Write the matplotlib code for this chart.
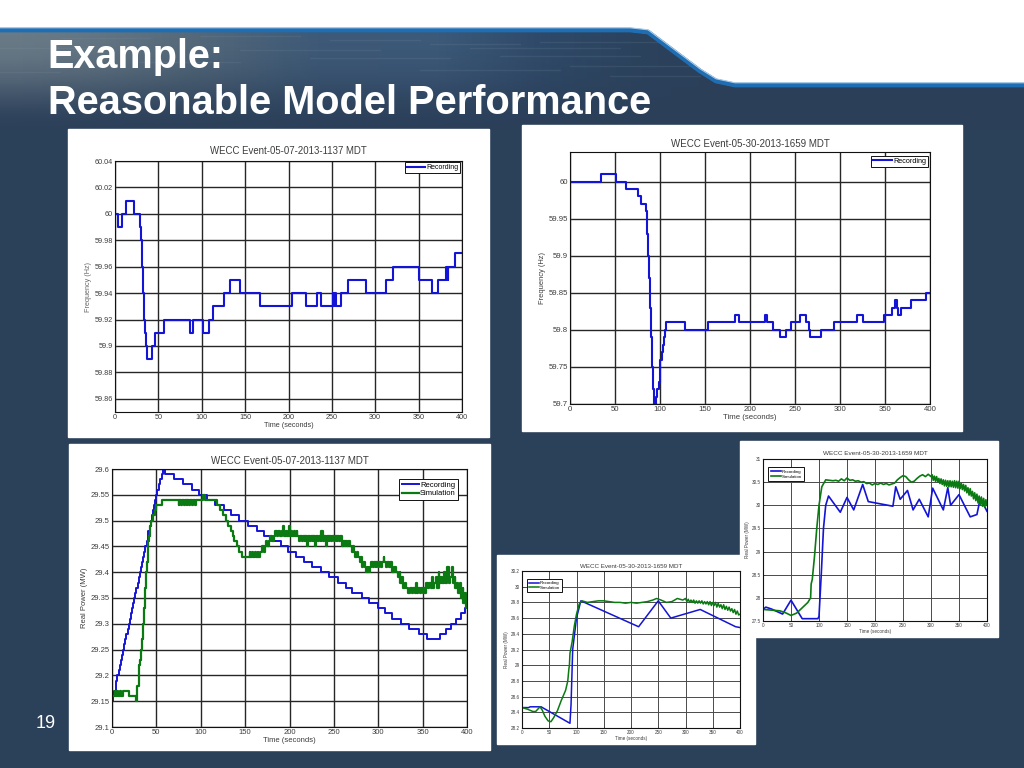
import numpy as np
import matplotlib
matplotlib.use("Agg")
import matplotlib.pyplot as plt
from matplotlib.patches import Polygon, Rectangle
from matplotlib.colors import LinearSegmentedColormap

plt.rcParams['font.family'] = ['Liberation Sans', 'DejaVu Sans']

BG = '#2b4059'
BLUE = '#1414d6'
GREEN = '#0b7a12'
TXT = '#3c3c3c'

title_a = 'WECC Event-05-07-2013-1137 MDT'
title_b = 'WECC Event-05-30-2013-1659 MDT'
xticks = [0, 50, 100, 150, 200, 250, 300, 350, 400]

# Chart 1: frequency, event 05-07
f1_t = [0, 3, 8, 13, 22, 29, 30, 31, 32, 33, 35, 36, 37, 43, 46, 56, 86, 90, 102, 108, 113, 126, 133, 144, 167,
        204, 220, 233, 238, 251, 251.7, 252.4, 253.1, 253.8, 254.5, 260, 269, 289, 312, 320, 351, 365, 372,
        382, 382.6, 383.2, 383.8, 384.4, 385, 392, 400]
f1_f = [60, 59.99, 60, 60.01, 60, 59.99, 59.98, 59.96, 59.94, 59.92, 59.91, 59.90, 59.89, 59.90, 59.91, 59.92, 59.91, 59.92, 59.91, 59.92, 59.93, 59.94, 59.95, 59.94, 59.93,
        59.94, 59.93, 59.94, 59.93, 59.94, 59.93, 59.94, 59.93, 59.94, 59.93, 59.94, 59.95, 59.94, 59.95, 59.96, 59.95, 59.94, 59.95,
        59.96, 59.95, 59.96, 59.95, 59.96, 59.96, 59.97, 59.97]

# Chart 2: frequency, event 05-30
f2_t = [0, 34, 51, 62, 75, 79, 84, 85, 86, 87, 88, 89, 90, 91, 92, 93, 95, 97, 99, 100, 102, 103, 104, 106, 107, 128, 153, 183, 188,
        217, 219, 226, 233, 240, 246, 255, 262, 265, 267, 279, 293, 319, 326, 349, 358, 361, 363, 364, 368, 379, 396, 400]
f2_f = [60, 60.01, 60, 59.99, 59.98, 59.97, 59.96, 59.95, 59.93, 59.90, 59.87, 59.83, 59.79, 59.75, 59.72, 59.70, 59.71, 59.72, 59.73, 59.76, 59.77, 59.78, 59.79, 59.80, 59.81, 59.80, 59.81, 59.82, 59.81,
        59.82, 59.81, 59.80, 59.79, 59.80, 59.81, 59.82, 59.81, 59.80, 59.79, 59.80, 59.81, 59.82, 59.81, 59.82, 59.83, 59.84, 59.83, 59.82, 59.83, 59.84, 59.85, 59.85]

# Chart 3: power, event 05-07
p3_rec_t = [0, 1, 2.5, 4, 5, 6, 7.5, 9, 10, 11, 12.5, 14, 15, 16, 17.5, 19, 20, 21, 22.5, 24, 25, 26, 27.5, 29, 30, 31, 32.5, 34, 35, 36, 37.5, 39, 40, 41, 42.5, 44, 45, 46, 47.5, 49, 50, 51, 52.5, 54, 56, 57,
            60, 70, 80, 90, 98, 107, 116, 126, 134, 143, 153, 163, 171, 180,
            190, 198, 207, 216, 225, 235, 245, 255, 264, 270, 282, 290, 300, 308, 316, 326, 335, 346, 355, 370, 376, 382, 388, 393, 398, 400]
p3_rec_p = [29.15, 29.16, 29.17, 29.18, 29.19, 29.20, 29.21, 29.22, 29.23, 29.24, 29.25, 29.26, 29.27, 29.28, 29.29, 29.30, 29.31, 29.32, 29.33, 29.34, 29.35, 29.36, 29.37, 29.38, 29.39, 29.40, 29.41, 29.42, 29.43, 29.44, 29.45, 29.46, 29.47, 29.48, 29.49, 29.50, 29.51, 29.52, 29.53, 29.54, 29.55, 29.56, 29.57, 29.58, 29.59, 29.60,
            29.59, 29.58, 29.57, 29.56, 29.55, 29.54, 29.53, 29.52, 29.51, 29.50, 29.49, 29.48, 29.47, 29.46,
            29.45, 29.44, 29.43, 29.42, 29.41, 29.40, 29.39, 29.38, 29.37, 29.36, 29.35, 29.34, 29.33, 29.32, 29.31, 29.30, 29.29, 29.28, 29.27, 29.28, 29.29, 29.30, 29.31, 29.32, 29.33, 29.33]
p3_sim_t = [0, 3, 4, 6, 7, 9, 10, 12, 14, 19, 27, 28, 30, 32, 33, 34, 35, 36, 37, 38, 39, 40, 41, 42, 43, 44, 46, 48, 50, 56, 75, 76, 78, 79, 81, 82, 84, 85, 87, 88, 90, 91, 93, 95, 103, 105, 115,
            118, 122, 125, 128, 131, 134, 136, 138, 141, 143, 147, 155, 156, 158, 159, 161, 162, 164, 165, 167, 169, 171, 172, 174, 175, 177, 178, 180, 183, 184, 186, 187, 189, 191, 193, 194, 196, 197, 199, 200, 202, 203, 205, 206, 208, 209,
            211, 212, 214, 215, 217, 218, 220, 221, 223, 224, 226, 227, 229, 230, 232, 233, 235, 236, 238, 239, 241, 242, 244, 245, 247, 248, 250, 251, 253, 254, 256, 257, 259, 260, 262, 263, 265, 266, 268,
            270, 271, 273, 274, 276, 277, 279, 280, 282, 283, 285, 286, 288, 289, 291, 292, 294, 295, 297, 298, 300, 301, 303, 304, 306, 307, 309, 310, 312, 313, 315, 316, 318, 320, 322, 324, 325, 327, 328, 330, 331, 333, 335,
            336, 338, 339, 341, 342, 344, 345, 347, 348, 350, 351, 353, 354, 356, 357, 359, 360, 362, 363, 365, 366, 368, 369, 371, 372, 374, 375, 377, 378, 380, 381, 383, 384, 386, 387, 389, 390, 392, 393, 395, 396, 398, 399, 400]
p3_sim_p = [29.16, 29.17, 29.16, 29.17, 29.16, 29.17, 29.16, 29.17, 29.17, 29.16, 29.15, 29.18, 29.22, 29.23, 29.25, 29.27, 29.30, 29.33, 29.37, 29.40, 29.42, 29.44, 29.46, 29.47, 29.49, 29.50, 29.51, 29.52, 29.53, 29.54,
            29.53, 29.54, 29.53, 29.54, 29.53, 29.54, 29.53, 29.54, 29.53, 29.54, 29.53, 29.54, 29.53, 29.54, 29.55, 29.54, 29.54,
            29.53, 29.52, 29.51, 29.50, 29.49, 29.48, 29.47, 29.46, 29.45, 29.44, 29.43, 29.44, 29.43, 29.44, 29.43, 29.44, 29.43, 29.44, 29.43, 29.44, 29.45, 29.44, 29.45, 29.46, 29.45, 29.46, 29.47, 29.46, 29.47, 29.48, 29.47, 29.48, 29.47, 29.48, 29.49, 29.47, 29.48, 29.47, 29.49, 29.47, 29.48, 29.47, 29.48, 29.47, 29.48, 29.47,
            29.46, 29.47, 29.46, 29.47, 29.46, 29.47, 29.45, 29.47, 29.46, 29.47, 29.46, 29.47, 29.45, 29.47, 29.46, 29.47, 29.46, 29.48, 29.46, 29.47, 29.45, 29.47, 29.46, 29.47, 29.46, 29.47, 29.46, 29.47, 29.46, 29.47, 29.46, 29.47, 29.45, 29.46, 29.45, 29.46, 29.45, 29.46, 29.45,
            29.44, 29.45, 29.44, 29.43, 29.44, 29.43, 29.42, 29.43, 29.41, 29.42, 29.41, 29.40, 29.41, 29.40, 29.41, 29.42, 29.41, 29.42, 29.41, 29.42, 29.41, 29.42, 29.41, 29.42, 29.43, 29.42, 29.41, 29.42, 29.41, 29.42, 29.41, 29.40, 29.41, 29.40, 29.39, 29.40, 29.38, 29.39, 29.37, 29.38, 29.37, 29.36, 29.36,
            29.37, 29.36, 29.37, 29.36, 29.38, 29.36, 29.37, 29.36, 29.37, 29.36, 29.37, 29.36, 29.38, 29.37, 29.38, 29.37, 29.39, 29.37, 29.38, 29.39, 29.37, 29.40, 29.38, 29.39, 29.38, 29.40, 29.38, 29.39, 29.41, 29.38, 29.39, 29.41, 29.38, 29.39, 29.37, 29.38, 29.36, 29.38, 29.35, 29.37, 29.34, 29.36, 29.33, 29.33]

# Chart 4: power, event 05-30 (small)
p4_rec_t = [0, 12, 15, 35, 88, 90, 93, 100, 108, 214, 250, 273, 327, 392, 400]
p4_rec_p = [28.46, 28.46, 28.47, 28.47, 28.26, 28.5, 29.2, 29.6, 29.82, 29.49, 29.82, 29.6, 29.71, 29.49, 29.48]
p4_sim_t = [0, 10, 20, 25, 33, 37, 42, 48, 53, 58, 65, 72, 80, 84, 86, 87, 88, 92, 96, 100, 105,
            110, 120, 130, 140, 150, 160, 170, 180, 190, 200, 210, 220, 230, 240, 247, 255, 265, 275, 285, 295,
            300, 302.5, 305, 307.5, 310, 312.5, 315, 317.5, 320, 322.5, 325, 327.5, 330, 332.5, 335, 337.5, 340, 342.5, 345, 347.5,
            350, 352.5, 355, 357.5, 360, 362.5, 365, 367.5, 370, 372.5, 375, 377.5, 380, 382.5, 385, 387.5, 390, 392.5, 395, 397.5, 400]
p4_sim_p = [28.46, 28.44, 28.41, 28.41, 28.47, 28.43, 28.35, 28.29, 28.28, 28.33, 28.42, 28.55, 28.68, 28.8, 28.95, 29.0, 29.15, 29.3, 29.5, 29.65, 29.78,
            29.82, 29.80, 29.81, 29.82, 29.82, 29.81, 29.80, 29.80, 29.79, 29.80, 29.79, 29.80, 29.81, 29.83, 29.85, 29.83, 29.80, 29.81, 29.85, 29.83,
            29.85, 29.81, 29.84, 29.80, 29.83, 29.80, 29.83, 29.79, 29.82, 29.79, 29.82, 29.79, 29.82, 29.78, 29.81, 29.78, 29.81, 29.77, 29.81, 29.76,
            29.80, 29.76, 29.80, 29.74, 29.79, 29.74, 29.77, 29.72, 29.77, 29.71, 29.75, 29.70, 29.74, 29.69, 29.72, 29.67, 29.71, 29.65, 29.69, 29.64, 29.65]

# Chart 5: power, event 05-30 (small)
p5_rec_t = [0, 5, 15, 35, 50, 70, 98, 100, 104, 108, 112, 117, 138, 150, 162, 178, 188, 232, 237, 245, 258, 268, 279, 295, 303, 322, 330, 335, 350, 370, 382, 388, 400]
p5_rec_p = [27.75, 27.8, 27.76, 27.65, 27.95, 27.55, 27.55, 27.6, 28.5, 29.5, 30.0, 30.2, 29.85, 30.17, 29.9, 30.45, 30.08, 29.98, 30.4, 30.13, 30.32, 29.9, 30.13, 29.75, 30.37, 29.9, 30.38, 30.0, 30.23, 29.75, 29.8, 30.15, 29.87]
p5_sim_t = [0, 30, 40, 50, 60, 80, 85, 86, 88, 92, 96, 100, 105,
            112, 125, 130, 135, 140, 145, 150, 155, 160, 165, 170, 175, 180, 185, 190, 195, 200, 205, 210, 215, 220, 225, 230, 235, 240, 245, 250, 255, 260, 265, 270, 275, 280, 285, 290, 295, 300,
            302, 304, 306, 308, 310, 312, 314, 316, 318, 320, 322, 324, 326, 328, 330, 332, 334, 336, 338, 340, 342, 344, 346, 348, 350,
            352, 354, 356, 358, 360, 362, 364, 366, 368, 370, 372, 374, 376, 378, 380, 382, 384, 386, 388, 390, 392, 394, 396, 398, 400]
p5_sim_p = [27.75, 27.72, 27.68, 27.62, 27.67, 27.9, 28.0, 28.3, 28.4, 28.9, 29.5, 30.0, 30.4,
            30.55, 30.53, 30.54, 30.52, 30.57, 30.53, 30.59, 30.54, 30.55, 30.52, 30.53, 30.50, 30.51, 30.47, 30.48, 30.44, 30.47, 30.45, 30.48, 30.45, 30.47, 30.44, 30.46, 30.48, 30.55, 30.60, 30.64, 30.62, 30.55, 30.50, 30.52, 30.58, 30.63, 30.66, 30.62, 30.67, 30.62,
            30.66, 30.54, 30.63, 30.52, 30.62, 30.50, 30.58, 30.47, 30.57, 30.45, 30.55, 30.42, 30.54, 30.41, 30.53, 30.40, 30.53, 30.40, 30.52, 30.39, 30.53, 30.38, 30.52, 30.37, 30.52,
            30.36, 30.48, 30.34, 30.45, 30.31, 30.43, 30.27, 30.38, 30.22, 30.36, 30.2, 30.3, 30.14, 30.27, 30.1, 30.24, 30.05, 30.2, 30.0, 30.18, 29.98, 30.15, 29.97, 30.12, 30.0]


def make_axes(fig, box, fig_w=1024, fig_h=768):
    x0, y0, x1, y1 = box
    return fig.add_axes([x0 / fig_w, 1 - y1 / fig_h, (x1 - x0) / fig_w, (y1 - y0) / fig_h])


def style_axes(ax, ylim, yticks, title, tick_fs, title_fs, label_fs, lw=1.0, grid='#262626', pad=None):
    ax.set_xlim(0, 400)
    ax.set_ylim(*ylim)
    ax.set_xticks(xticks)
    ax.set_yticks(yticks)
    ax.set_yticklabels([f'{v:g}' for v in yticks])
    ax.grid(True, color=grid, lw=lw)
    ax.set_axisbelow(True)
    ax.tick_params(length=1.5, width=0.5, direction='in', labelsize=tick_fs, colors=TXT, pad=1.5)
    ax.set_title(title, fontsize=title_fs, color=TXT, pad=title_fs * 0.55 if pad is None else pad)
    ax.set_xlabel('Time (seconds)', fontsize=label_fs, color=TXT, labelpad=0.5)
    for s in ax.spines.values():
        s.set_linewidth(0.8)
        s.set_color('#111111')


def add_legend(ax, fs, anchor, handle=2.6, borderpad=0.3):
    ax.legend(loc='upper right', bbox_to_anchor=anchor, fontsize=fs, fancybox=False, edgecolor='#111111',
              framealpha=1, borderpad=borderpad, labelspacing=0.15, handlelength=handle, handletextpad=0.2,
              borderaxespad=0).get_frame().set_linewidth(0.7)


fig = plt.figure(figsize=(10.24, 7.68), dpi=100, facecolor=BG)

# Slide background
bg = fig.add_axes([0, 0, 1, 1])
bg.set_xlim(0, 1024)
bg.set_ylim(768, 0)
bg.axis('off')
shape = [(0, 31), (630, 31), (648, 33), (660, 42), (700, 72), (716, 82), (735, 86), (1024, 86), (1024, 0), (0, 0)]
bg.add_patch(Rectangle((0, 0), 1024, 768, color=BG, zorder=0))
band = [(0, 31), (630, 31), (648, 33), (660, 42), (700, 72), (716, 82), (735, 86), (1024, 86), (1024, 130), (0, 130)]
cmap = LinearSegmentedColormap.from_list('hdr', ['#6b7c88', '#566a7b', '#3f5b78', '#3d5a7a', '#2f4a68', BG])
im = bg.imshow(np.array([[0.0, 0.2, 0.4, 0.6, 0.85, 1.0]]), extent=(0, 760, 130, 31), cmap=cmap, aspect='auto',
               interpolation='bicubic', zorder=1)
im.set_clip_path(Polygon(band, transform=bg.transData))
fade = LinearSegmentedColormap.from_list('fade', [(0.17, 0.25, 0.35, 0.0), (0.17, 0.25, 0.35, 1.0)])
bg.imshow(np.array([[0.0], [0.35], [1.0]]), extent=(0, 1024, 130, 31), cmap=fade, aspect='auto',
          interpolation='bicubic', zorder=1.5)
bg.set_xlim(0, 1024)
bg.set_ylim(768, 0)
for sx0, sx1, sy in [(200, 300, 36), (330, 420, 40), (430, 520, 44), (240, 380, 50), (470, 620, 48), (540, 660, 42),
                     (310, 450, 58), (500, 640, 56), (140, 240, 62), (570, 690, 66), (420, 560, 70), (610, 700, 76),
                     (0, 90, 48), (0, 60, 72), (60, 150, 38)]:
    bg.plot([sx0, sx1], [sy, sy], color='#7f93a6', lw=1.0, alpha=0.16, zorder=1.7, solid_capstyle='round')
bg.add_patch(Polygon(shape, color='white', zorder=2))
edge_x = [p[0] for p in shape[:8]]
edge_y = [p[1] - 1 for p in shape[:8]]
bg.plot(edge_x, edge_y, color='#1f6db3', lw=3.4, zorder=3, solid_joinstyle='round')
bg.plot(edge_x, [v - 2.2 for v in edge_y], color='#a9cbe8', lw=0.8, zorder=3)

bg.text(47, 57, 'Example:', color='white', fontsize=28.5, fontweight='bold', va='center', ha='left', zorder=4)
bg.text(48, 103, 'Reasonable Model Performance', color='white', fontsize=28.6, fontweight='bold', va='center', ha='left', zorder=4)
bg.text(36, 724, '19', color='white', fontsize=13, va='center', ha='left', zorder=4)

# White cards
for x0, y0, x1, y1 in [(68, 129, 489, 437), (522, 125, 962, 431), (69, 444, 490, 750), (497, 555, 755, 744), (740, 441, 998, 637)]:
    bg.add_patch(Rectangle((x0, y0), x1 - x0, y1 - y0, color='white', zorder=5))

# Chart 1
ax1 = make_axes(fig, (115, 161, 462, 412))
ax1.plot(f1_t, f1_f, drawstyle='steps-post', color=BLUE, lw=1.5, label='Recording')
style_axes(ax1, (59.85, 60.04), [59.86, 59.88, 59.9, 59.92, 59.94, 59.96, 59.98, 60, 60.02, 60.04], title_a, 5.2, 6.9, 5.2, pad=4.8)
ax1.set_ylabel('Frequency (Hz)', fontsize=5.2, color='#666666', labelpad=2)
add_legend(ax1, 5.0, (0.995, 0.995))

# Chart 2
ax2 = make_axes(fig, (570, 152, 930, 404))
ax2.plot(f2_t, f2_f, drawstyle='steps-post', color=BLUE, lw=1.5, label='Recording')
style_axes(ax2, (59.7, 60.04), [59.7, 59.75, 59.8, 59.85, 59.9, 59.95, 60], title_b, 5.6, 7.0, 5.6)
ax2.set_ylabel('Frequency (Hz)', fontsize=5.4, color=TXT, labelpad=2)
add_legend(ax2, 5.2, (0.995, 0.985))

# Chart 3
ax3 = make_axes(fig, (112, 469, 467, 727))
ax3.plot(p3_rec_t, p3_rec_p, drawstyle='steps-post', color=BLUE, lw=1.4, label='Recording')
ax3.plot(p3_sim_t, p3_sim_p, drawstyle='steps-post', color=GREEN, lw=1.6, label='Simulation')
style_axes(ax3, (29.1, 29.6), [29.1, 29.15, 29.2, 29.25, 29.3, 29.35, 29.4, 29.45, 29.5, 29.55, 29.6], title_a, 5.5, 7.0, 5.5)
ax3.set_ylabel('Real Power (MW)', fontsize=5.5, color=TXT, labelpad=2)
add_legend(ax3, 5.5, (0.975, 0.96), handle=2.2)

# Chart 4
ax4 = make_axes(fig, (522, 571, 740, 728))
ax4.plot(p4_rec_t, p4_rec_p, color=BLUE, lw=1.1, label='Recording')
ax4.plot(p4_sim_t, p4_sim_p, color=GREEN, lw=1.1, label='Simulation')
style_axes(ax4, (28.2, 30.2), [28.2, 28.4, 28.6, 28.8, 29, 29.2, 29.4, 29.6, 29.8, 30, 30.2], title_b, 3.3, 4.5, 3.3, lw=0.7, grid='#4a4a4a')
ax4.set_ylabel('Real Power (MW)', fontsize=3.3, color=TXT, labelpad=1)
add_legend(ax4, 3.2, (0.185, 0.95), handle=2.2, borderpad=0.5)

# Chart 5
ax5 = make_axes(fig, (763, 459, 987, 621))
ax5.plot(p5_rec_t, p5_rec_p, color=BLUE, lw=1.2, label='Recording')
ax5.plot(p5_sim_t, p5_sim_p, color=GREEN, lw=1.2, label='Simulation')
style_axes(ax5, (27.5, 31), [27.5, 28, 28.5, 29, 29.5, 30, 30.5, 31], title_b, 3.3, 4.6, 3.3, lw=0.7, grid='#4a4a4a')
ax5.set_ylabel('Real Power (MW)', fontsize=3.3, color=TXT, labelpad=1)
add_legend(ax5, 3.2, (0.185, 0.95), handle=2.2, borderpad=0.6)

fig.savefig('out.png', dpi=100)
